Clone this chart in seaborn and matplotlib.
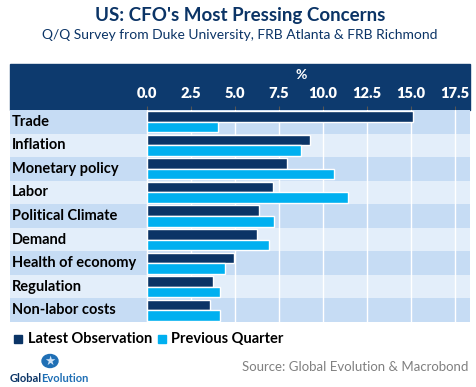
import pandas as pd
import seaborn as sns
import matplotlib.pyplot as plt
from matplotlib.patches import Rectangle, Circle

# Data (% of CFOs)
concerns = ['Trade', 'Inflation', 'Monetary policy', 'Labor', 'Political Climate',
            'Demand', 'Health of economy', 'Regulation', 'Non-labor costs']
latest = [15.1, 9.25, 7.95, 7.15, 6.35, 6.25, 4.95, 3.75, 3.6]
previous = [4.05, 8.75, 10.6, 11.4, 7.2, 6.95, 4.45, 4.15, 4.15]
series_names = ['Latest Observation', 'Previous Quarter']
ticks = [0.0, 2.5, 5.0, 7.5, 10.0, 12.5, 15.0, 17.5]

navy = '#0b3466'
cyan = '#00b0f0'
band_dark = '#c6dcf4'
band_light = '#e3eefa'

df = pd.DataFrame({
    'concern': concerns * 2,
    'value': latest + previous,
    'series': [series_names[0]] * len(concerns) + [series_names[1]] * len(concerns),
})

sns.set_style('white')
plt.rcParams['font.family'] = ['Lato', 'DejaVu Sans']

W, H = 476, 387
fig = plt.figure(figsize=(W / 100, H / 100), dpi=100)

# axes spans the full band width; 0 sits at x=147px
ax_left, ax_right = 10, 470
ax_top, ax_bot = 110, 322
ax = fig.add_axes([ax_left / W, 1 - ax_bot / H, (ax_right - ax_left) / W, (ax_bot - ax_top) / H])
px_per_unit = (455 - 147) / 17.5
xmin = -(147 - ax_left) / px_per_unit
xmax = (ax_right - 147) / px_per_unit

# alternating row bands
for i in range(len(concerns)):
    ax.axhspan(i - 0.5, i + 0.5, color=band_dark if i % 2 == 0 else band_light, zorder=0, lw=0)
for t in ticks:
    ax.axvline(t, color='white', lw=1, zorder=1)

sns.barplot(data=df, y='concern', x='value', hue='series', order=concerns,
            hue_order=series_names, palette=[navy, cyan], orient='h',
            width=0.9, saturation=1, ax=ax, zorder=2, legend=False)

ax.set_xlim(xmin, xmax)
ax.set_ylim(len(concerns) - 0.5, -0.5)
ax.set_xlabel('')
ax.set_ylabel('')
ax.set_yticks([])
ax.xaxis.tick_top()
ax.set_xticks(ticks)
ax.set_xticklabels([f'{t:.1f}' for t in ticks], color='white', fontweight='heavy', fontsize=10.5)
ax.tick_params(axis='x', direction='out', length=3, width=0.8, color='#555555', pad=4)
for s in ax.spines.values():
    s.set_visible(False)

for i, name in enumerate(concerns):
    ax.text(xmin + 2 / px_per_unit, i, name, ha='left', va='center',
            fontsize=10.5, fontweight='bold', color='black')

# header band
fig.patches.append(Rectangle((ax_left / W, 1 - ax_top / H), (ax_right - ax_left) / W,
                             (ax_top - 64) / H, transform=fig.transFigure,
                             color='#0d3a6e', zorder=-1))
fig.text(301 / W, 1 - 75 / H, '%', ha='center', va='center', color='white',
         fontsize=10, fontweight='bold')

# titles
fig.text(240 / W, 1 - 15 / H, "US: CFO's Most Pressing Concerns", ha='center', va='center',
         color=navy, fontsize=13.5, fontweight='bold')
fig.text(240 / W, 1 - 35 / H, 'Q/Q Survey from Duke University, FRB Atlanta & FRB Richmond',
         ha='center', va='center', color=navy, fontsize=10)

# legend
fig.patches.append(Rectangle((14 / W, 1 - 343 / H), 8 / W, 8 / H, transform=fig.transFigure,
                             color=navy))
fig.text(28 / W, 1 - 339 / H, series_names[0], ha='left', va='center', color='black',
         fontsize=10.5, fontweight='bold')
fig.patches.append(Rectangle((158 / W, 1 - 343 / H), 8 / W, 8 / H, transform=fig.transFigure,
                             color=cyan))
fig.text(171 / W, 1 - 339 / H, series_names[1], ha='left', va='center', color='black',
         fontsize=10.5, fontweight='bold')

# source + logo
fig.text(468 / W, 1 - 367 / H, 'Source: Global Evolution & Macrobond', ha='right',
         va='center', color='#808080', fontsize=9.5)
fig.patches.append(Circle((50 / W, 1 - 361 / H), 8 / W, transform=fig.transFigure,
                          color='#1f6fb5'))
fig.text(50 / W, 1 - 361.5 / H, '★', ha='center', va='center', color='#cfe3f7',
         fontsize=9, family=['DejaVu Sans'])
fig.text(10 / W, 1 - 378 / H, 'Global', ha='left', va='center', color=navy, fontsize=8,
         fontweight='bold')
fig.text(41 / W, 1 - 378 / H, 'Evolution', ha='left', va='center', color='#1f6fb5', fontsize=8,
         fontweight='bold')

fig.savefig('out.png', dpi=100, facecolor='white')
